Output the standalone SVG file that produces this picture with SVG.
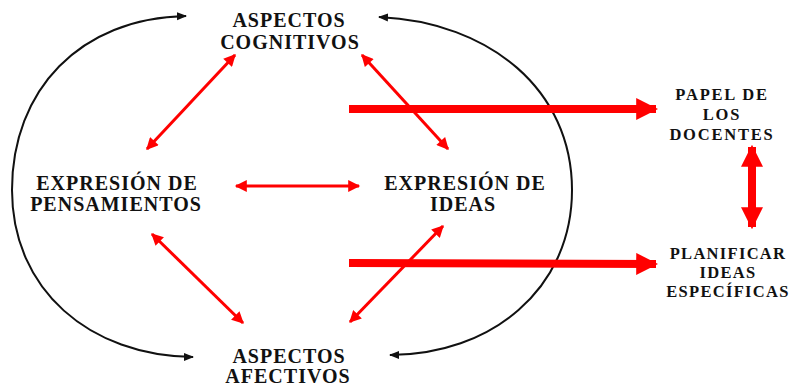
<svg xmlns="http://www.w3.org/2000/svg" width="789" height="386" viewBox="0 0 789 386">
<defs>
<marker id="bk" viewBox="0 0 10 10" refX="9" refY="5" markerWidth="10" markerHeight="10" markerUnits="userSpaceOnUse" orient="auto-start-reverse"><path d="M0,1 L10,5 L0,9 Z" fill="#111"/></marker>
<marker id="rd" viewBox="0 0 10 10" refX="9" refY="5" markerWidth="13" markerHeight="12" markerUnits="userSpaceOnUse" orient="auto-start-reverse"><path d="M0,0 L10,5 L0,10 Z" fill="#f00"/></marker>
<marker id="rdb" viewBox="0 0 10 10" refX="9" refY="5" markerWidth="22" markerHeight="22" markerUnits="userSpaceOnUse" orient="auto-start-reverse"><path d="M0,0 L10,5 L0,10 Z" fill="#f00"/></marker>
</defs>
<style>
.big{font-size:20px}
.sm{font-size:16.5px}
.thin{stroke:#f00;stroke-width:3;fill:none;marker-start:url(#rd);marker-end:url(#rd)}
.thick{stroke:#f00;stroke-width:8;fill:none;marker-end:url(#rdb)}
.curve{stroke:#111;stroke-width:2;fill:none;marker-end:url(#bk)}
</style>
<rect width="789" height="386" fill="#fff"/>
<g id="connectors">
<path class="curve" d="M12,190 C12,90 80,18 186,16"/>
<path class="curve" d="M12,190 C12,290 90,356 193,357"/>
<path class="curve" d="M572,190 C572,90 490,22 379,17"/>
<path class="curve" d="M572,190 C572,290 490,355 390,355"/>
<line class="thin" x1="147" y1="149" x2="235" y2="55"/>
<line class="thin" x1="362" y1="55" x2="448" y2="149"/>
<line class="thin" x1="236" y1="186" x2="359" y2="186"/>
<line class="thin" x1="152" y1="234" x2="243" y2="323"/>
<line class="thin" x1="350" y1="322" x2="443" y2="226"/>
<line class="thick" x1="349" y1="109" x2="656" y2="109"/>
<line class="thick" x1="349" y1="263" x2="656" y2="264"/>
<line class="thick" x1="752" y1="147" x2="752" y2="227" style="marker-start:url(#rdb)"/>
</g>
<g font-family="Liberation Serif, serif" font-weight="bold" fill="#111" text-anchor="middle">
<g id="aspectos-cognitivos"><text class="big" x="289" y="27" letter-spacing="1">ASPECTOS</text><text class="big" x="290" y="49" letter-spacing="1">COGNITIVOS</text></g>
<g id="expresion-pensamientos"><text class="big" x="117" y="190" letter-spacing="1">EXPRESIÓN  DE</text><text class="big" x="116" y="211" letter-spacing="1">PENSAMIENTOS</text></g>
<g id="expresion-ideas"><text class="big" x="465" y="190" letter-spacing="1">EXPRESIÓN  DE</text><text class="big" x="463" y="211" letter-spacing="1">IDEAS</text></g>
<g id="aspectos-afectivos"><text class="big" x="289" y="363" letter-spacing="1">ASPECTOS</text><text class="big" x="288" y="383" letter-spacing="1">AFECTIVOS</text></g>
<g id="papel-docentes" letter-spacing="1.8"><text class="sm" x="722" y="100">PAPEL DE</text><text class="sm" x="722" y="120">LOS</text><text class="sm" x="722" y="140">DOCENTES</text></g>
<g id="planificar" letter-spacing="1.3"><text class="sm" x="728" y="259">PLANIFICAR</text><text class="sm" x="728" y="278">IDEAS</text><text class="sm" x="728" y="297">ESPECÍFICAS</text></g>
</g>
</svg>
